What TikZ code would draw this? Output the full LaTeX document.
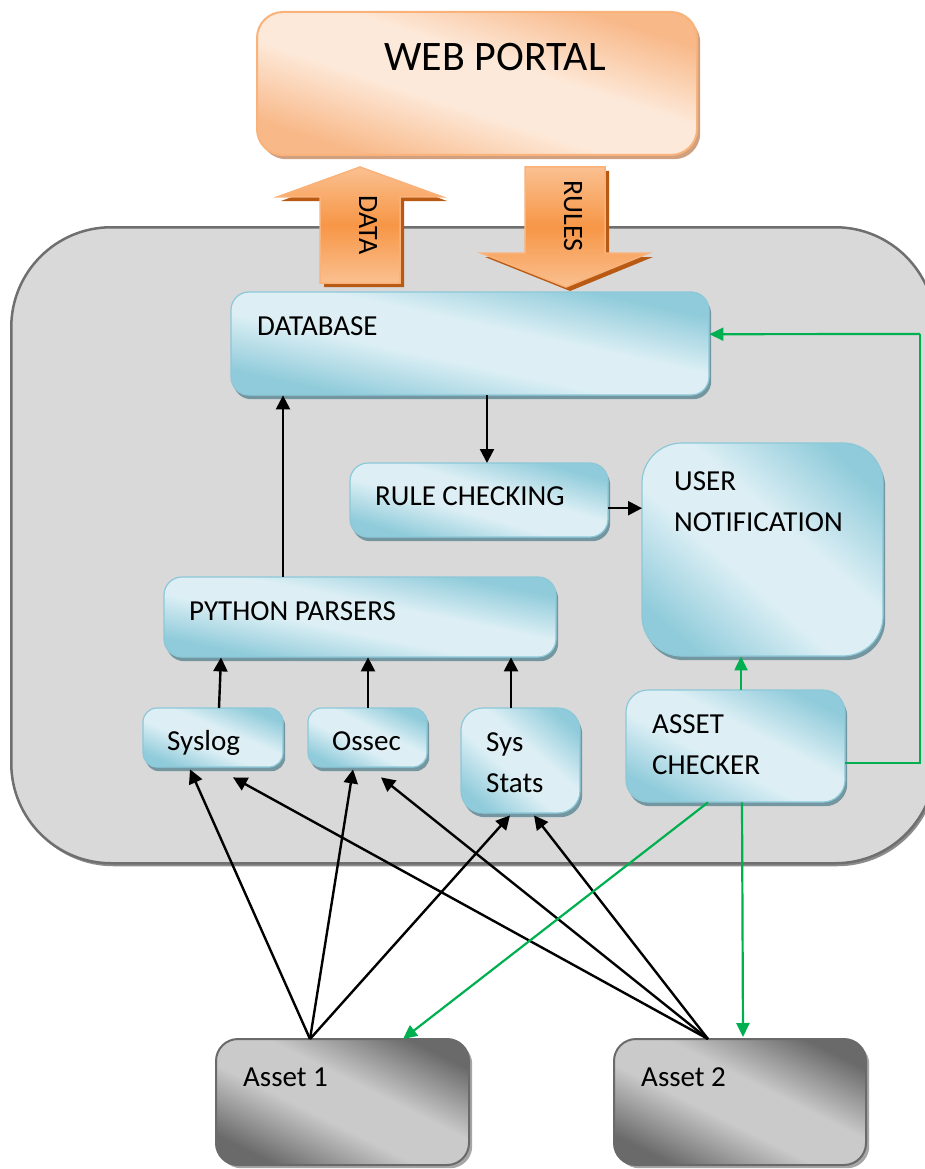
\documentclass[tikz,border=0pt]{standalone}
\usepackage{fontspec}
\setmainfont{Carlito}
\usetikzlibrary{shadows,arrows.meta}
\definecolor{bluedark}{HTML}{8FCBDA}
\definecolor{bluelight}{HTML}{DDEFF5}
\definecolor{bluebord}{HTML}{8CC8D8}
\definecolor{blueshadow}{HTML}{7396A0}
\definecolor{orgdark}{HTML}{F8B888}
\definecolor{orglight}{HTML}{FDE9D9}
\definecolor{orgbord}{HTML}{F9B27A}
\definecolor{orgshadow}{HTML}{D0A080}
\definecolor{orgmid}{HTML}{F79646}
\definecolor{orgtop}{HTML}{FAC090}
\definecolor{orgdeep}{HTML}{B85A14}
\definecolor{greydark}{HTML}{6A6A6A}
\definecolor{greylight}{HTML}{CACACA}
\definecolor{contfill}{HTML}{D9D9D9}
\definecolor{contborder}{HTML}{6F6F6F}
\definecolor{grn}{HTML}{00B050}
\pgfdeclareverticalshading{bluegrad}{100bp}{color(0bp)=(bluedark); color(31bp)=(bluedark); color(45bp)=(bluelight); color(55bp)=(bluelight); color(69bp)=(bluedark); color(100bp)=(bluedark)}
\pgfdeclareverticalshading{greygrad}{100bp}{color(0bp)=(greydark); color(31bp)=(greydark); color(45bp)=(greylight); color(55bp)=(greylight); color(69bp)=(greydark); color(100bp)=(greydark)}
\pgfdeclareverticalshading{orggrad}{100bp}{color(0bp)=(orgdark); color(31bp)=(orgdark); color(45bp)=(orglight); color(55bp)=(orglight); color(69bp)=(orgdark); color(100bp)=(orgdark)}
% #1 name, #2 x, #3 y, #4 w, #5 h, #6 corner radius, #7 node style, #8 shading, #9 border style
\newcommand{\gradbox}[9]{%
  \node[#7, minimum width=#4pt, minimum height=#5pt, rounded corners=#6pt] (#1) at (#2,#3) {};
  \pgfmathsetmacro{\gbang}{atan(#5/#4)}%
  \pgfmathsetmacro{\gbD}{#5*cos(\gbang)}%
  \pgfmathsetmacro{\gbL}{#4+#5}%
  \begin{scope}
    \clip[rounded corners=#6pt] (#2,#3) rectangle ++(#4,#5);
    \begin{scope}[transform canvas={shift={(#2+#4/2,#3+#5/2)}, rotate=-\gbang}]
      \shade[shading=#8] (-\gbL pt,-\gbD pt) rectangle (\gbL pt,\gbD pt);
    \end{scope}
  \end{scope}
  \draw[#9, rounded corners=#6pt] (#2,#3) rectangle ++(#4,#5);
}
\tikzset{
  bnode/.style={fill=bluedark,
    drop shadow={shadow xshift=2pt, shadow yshift=-4pt, fill=blueshadow, opacity=1},
    anchor=north west, inner sep=0pt},
  bborder/.style={draw=bluebord, line width=1.2pt},
  anode/.style={fill=greydark,
    drop shadow={shadow xshift=3pt, shadow yshift=-3pt, fill=black!35, opacity=1},
    anchor=north west, inner sep=0pt},
  aborder/.style={draw=greydark, line width=2pt},
  onode/.style={fill=orgdark,
    drop shadow={shadow xshift=3pt, shadow yshift=-4pt, fill=orgshadow, opacity=1},
    anchor=north west, inner sep=0pt},
  oborder/.style={draw=orgbord, line width=2pt},
  lbl/.style={anchor=west, inner sep=0pt, align=left},
  blk/.style={line width=2.4pt, draw=black, -{Triangle[length=14pt,width=14pt]}},
  grnarrow/.style={line width=2.2pt, draw=grn, -{Triangle[length=14pt,width=13pt]}},
  grnline/.style={line width=2.2pt, draw=grn},
  bigarrow/.style={draw=orgbord, line width=1.5pt, top color=orgtop, bottom color=orgtop, middle color=orgmid},
  bigshadow/.style={fill=orgdeep}
}
\begin{document}
\begin{tikzpicture}[x=1pt,y=-1pt, font=\fontsize{29}{41}\selectfont]
\useasboundingbox (0,0) rectangle (925,1169);

% system container
\node[draw=contborder, line width=2.5pt, fill=contfill, rounded corners=100pt,
      drop shadow={shadow xshift=2pt, shadow yshift=-3pt, fill=black!45, opacity=1},
      anchor=north west, inner sep=0pt, minimum width=924pt, minimum height=636pt] (sys) at (10,226) {};

% web portal
\gradbox{wp}{257}{12}{440}{143}{26}{onode}{orggrad}{oborder}
\node[inner sep=0pt, font=\fontsize{42}{50}\selectfont] (wptxt) at (495,57) {WEB PORTAL};

% DATA arrow (up)
\fill[bigshadow] (324,287) -- (324,201) -- (281,201) -- (364,171) -- (447,201) -- (404,201) -- (404,287) -- cycle;
\path[bigarrow] (320,283) -- (320,197) -- (277,197) -- (360,167) -- (443,197) -- (400,197) -- (400,283) -- cycle;
\node[rotate=-90, inner sep=0pt, font=\fontsize{28}{34}\selectfont] (datatxt) at (368,225) {DATA};

% RULES arrow (down)
\fill[bigshadow] (529,171) -- (609,171) -- (609,257) -- (653,257) -- (570,291) -- (485,257) -- (529,257) -- cycle;
\path[bigarrow] (525,167) -- (605,167) -- (605,253) -- (649,253) -- (566,287) -- (481,253) -- (525,253) -- cycle;
\node[rotate=-90, inner sep=0pt, font=\fontsize{28}{34}\selectfont] (rulestxt) at (573,216) {RULES};

% boxes
\gradbox{db}{231}{292}{478}{103}{18}{bnode}{bluegrad}{bborder}
\node[lbl] (dbtxt) at (257,326) {DATABASE};

\gradbox{rc}{350}{463}{258}{74}{18}{bnode}{bluegrad}{bborder}
\node[lbl] (rctxt) at (375,496) {RULE CHECKING};

\gradbox{un}{642}{443}{241}{213}{40}{bnode}{bluegrad}{bborder}
\node[lbl] (untxt) at (674,502) {USER\\NOTIFICATION};

\gradbox{py}{164}{577}{392}{80}{18}{bnode}{bluegrad}{bborder}
\node[lbl] (pytxt) at (189,611) {PYTHON PARSERS};

\gradbox{sl}{143}{708}{140}{59}{14}{bnode}{bluegrad}{bborder}
\node[lbl] (sltxt) at (167,743) {Syslog};

\gradbox{os}{308}{708}{119}{59}{14}{bnode}{bluegrad}{bborder}
\node[lbl] (ostxt) at (332,741) {Ossec};

\gradbox{ss}{461}{708}{119}{105}{22}{bnode}{bluegrad}{bborder}
\node[lbl] (sstxt) at (486,763) {Sys\\Stats};

\gradbox{ac}{626}{690}{219}{112}{22}{bnode}{bluegrad}{bborder}
\node[lbl] (actxt) at (652,745) {ASSET\\CHECKER};

\gradbox{a1}{216}{1039}{253}{126}{22}{anode}{greygrad}{aborder}
\node[lbl] (a1txt) at (243,1077) {Asset 1};

\gradbox{a2}{614}{1039}{252}{126}{22}{anode}{greygrad}{aborder}
\node[lbl] (a2txt) at (641,1077) {Asset 2};

% black connectors
\draw[blk] ([xshift=256pt]db.south west) -- ([xshift=137pt]rc.north west);
\coordinate (rcE) at ([yshift=-8pt]rc.east);
\draw[blk] (rcE) -- (rcE -| un.west);
\draw[blk] ([xshift=119pt]py.north west) -- ([xshift=52pt]db.south west);
\draw[blk] ([xshift=76pt]sl.north west) -- ([xshift=57pt]py.south west);
\draw[blk] ([xshift=60pt]os.north west) -- ([xshift=204pt]py.south west);
\draw[blk] ([xshift=50pt]ss.north west) -- ([xshift=347pt]py.south west);

\coordinate (a1top) at ([xshift=94pt]a1.north west);
\coordinate (a2top) at ([xshift=94pt]a2.north west);
\draw[blk] (a1top) -- ([xshift=47pt,yshift=-2pt]sl.south west);
\draw[blk] (a1top) -- ([xshift=45pt,yshift=-2pt]os.south west);
\draw[blk] (a1top) -- ([xshift=49pt,yshift=-2pt]ss.south west);
\draw[blk] (a2top) -- ([xshift=90pt,yshift=-10pt]sl.south west);
\draw[blk] (a2top) -- ([xshift=73pt,yshift=-10pt]os.south west);
\draw[blk] (a2top) -- ([xshift=73pt,yshift=-2pt]ss.south west);

% green connectors
\draw[grnarrow] ([xshift=115pt]ac.north west) -- ([xshift=99pt]un.south west);
\coordinate (gcorner) at (920,334);
\draw[grnline] ([yshift=-17pt]ac.east) -| (gcorner);
\draw[grnarrow] (gcorner) -- ([yshift=9.5pt]db.east);
\draw[grnarrow] ([xshift=82pt]ac.south west) -- ([xshift=187pt]a1.north west);
\draw[grnarrow] ([xshift=116pt]ac.south west) -- ([xshift=129pt,yshift=2pt]a2.north west);
\end{tikzpicture}
\end{document}
